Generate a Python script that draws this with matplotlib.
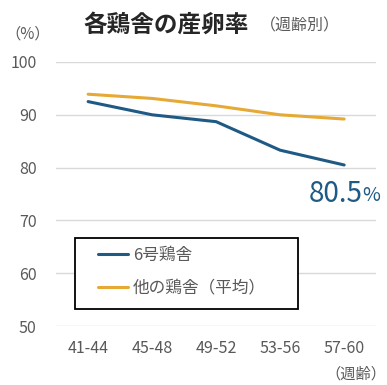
import matplotlib
matplotlib.use("Agg")
import matplotlib.pyplot as plt
from matplotlib.patches import Rectangle

plt.rcParams['font.family'] = ['Noto Sans CJK JP', 'DejaVu Sans']

weeks = ["41-44", "45-48", "49-52", "53-56", "57-60"]
house6 = [92.5, 90.0, 88.7, 83.3, 80.5]
others_avg = [93.9, 93.1, 91.7, 90.0, 89.2]
yticks = [50, 60, 70, 80, 90, 100]

BLUE = "#1f5a85"
GOLD = "#e6a935"
GRAY = "#595959"

fig = plt.figure(figsize=(3.87, 3.85), dpi=100)
ax = fig.add_axes([0.145, 0.153, 0.827, 0.686])

x = list(range(len(weeks)))
l1, = ax.plot(x, house6, color=BLUE, lw=2.2, solid_capstyle='round')
l2, = ax.plot(x, others_avg, color=GOLD, lw=2.2, solid_capstyle='round')

ax.set_xlim(-0.5, 4.5)
ax.set_ylim(50, 100)
ax.set_yticks(yticks)
ax.set_xticks(x)
ax.set_xticklabels(weeks)
ax.grid(axis='y', color='#d9d9d9', lw=1)
ax.set_axisbelow(True)
for s in ax.spines.values():
    s.set_visible(False)
ax.tick_params(length=0, colors=GRAY, labelsize=11.5)
ax.tick_params(axis='x', pad=10)
ax.tick_params(axis='y', pad=14)

# Title and unit labels
fig.text(0.215, 0.935, "各鶏舎の産卵率", fontsize=17, fontweight='bold',
         color='#262626', ha='left', va='center')
fig.text(0.672, 0.932, "（週齢別）", fontsize=11.5, color=GRAY, ha='left', va='center')
fig.text(0.015, 0.912, "（%）", fontsize=11, color=GRAY, ha='left', va='center')
fig.text(0.998, 0.028, "（週齢）", fontsize=11, color=GRAY, ha='right', va='center')

# Final value annotation
ax.annotate(f"{house6[-1]:.1f}", xy=(x[-1], house6[-1]), xytext=(13, -21),
            textcoords='offset points', fontsize=20, color=BLUE,
            ha='right', va='center')
ax.annotate("%", xy=(x[-1], house6[-1]), xytext=(13, -22),
            textcoords='offset points', fontsize=14, color=BLUE,
            ha='left', va='center')

# Legend box: black frame with the entries inset from its left edge
ax.add_patch(Rectangle((0.059, 0.064), 0.697, 0.269, transform=ax.transAxes,
                       facecolor='white', edgecolor='black', lw=1.3, zorder=4))
leg = ax.legend([l1, l2], ["6号鶏舎", "他の鶏舎（平均）"], loc='center left',
                bbox_to_anchor=(0.131, 0.205), borderaxespad=0, borderpad=0,
                frameon=False, fontsize=12, labelcolor=GRAY,
                handlelength=1.8, handletextpad=0.3, labelspacing=1.0)
leg.set_zorder(5)

fig.savefig("out.png", dpi=100)
